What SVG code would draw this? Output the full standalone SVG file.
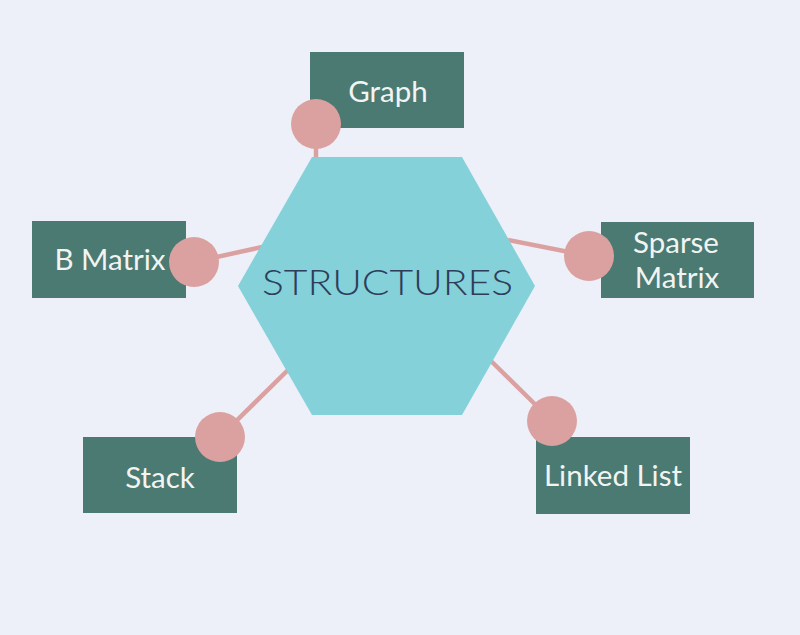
<svg xmlns="http://www.w3.org/2000/svg" width="800" height="635" viewBox="0 0 800 635">
<style>
.box{fill:#4a7a72}
.lbl{font-family:Lato,"Liberation Sans",sans-serif;font-size:29.5px;fill:#f2f4f2;text-anchor:middle}
.dot{fill:#dba1a0}
.ln{stroke:#dba1a0;stroke-width:4.5;fill:none}
</style>
<rect width="800" height="635" fill="#eef0f9"/>
<g id="connectors">
<line class="ln" x1="316" y1="124" x2="316" y2="160"/>
<line class="ln" x1="194" y1="262" x2="262" y2="247"/>
<line class="ln" x1="589" y1="256" x2="508" y2="240"/>
<line class="ln" x1="220" y1="437" x2="290" y2="368"/>
<line class="ln" x1="552" y1="421" x2="490" y2="360"/>
</g>
<g id="center">
<polygon points="312,157 462,157 535,286 462,415 312,415 238,286" fill="#84d1d9"/>
<text x="387.5" y="295" font-family="Lato,'Liberation Sans',sans-serif" font-weight="300" font-size="35" fill="#2e3d5a" text-anchor="middle" textLength="251" lengthAdjust="spacingAndGlyphs">STRUCTURES</text>
</g>
<g id="graph">
<rect class="box" x="310" y="52" width="154" height="76"/>
<text class="lbl" x="388" y="102">Graph</text>
<circle class="dot" cx="316" cy="124" r="25"/>
</g>
<g id="bmatrix">
<rect class="box" x="32" y="221" width="154" height="77"/>
<text class="lbl" x="110" y="270">B Matrix</text>
<circle class="dot" cx="194" cy="262" r="25"/>
</g>
<g id="sparse">
<rect class="box" x="601" y="222" width="153" height="76"/>
<text class="lbl" x="676" y="253">Sparse</text>
<text class="lbl" x="677" y="288">Matrix</text>
<circle class="dot" cx="589" cy="256" r="25"/>
</g>
<g id="stack">
<rect class="box" x="83" y="437" width="154" height="76"/>
<text class="lbl" x="160" y="488">Stack</text>
<circle class="dot" cx="220" cy="437" r="25"/>
</g>
<g id="linked">
<rect class="box" x="536" y="437" width="154" height="77"/>
<text class="lbl" x="613" y="486">Linked List</text>
<circle class="dot" cx="552" cy="421" r="25"/>
</g>
</svg>
